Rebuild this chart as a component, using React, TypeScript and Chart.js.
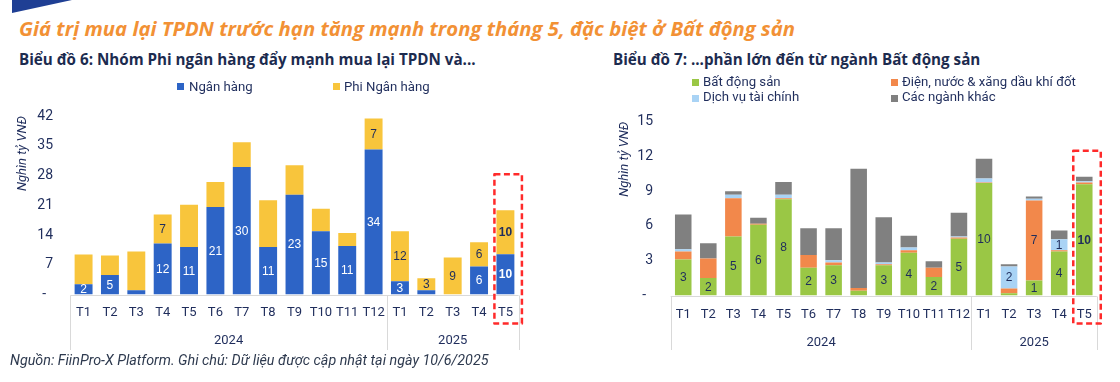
import React, { useEffect, useRef } from "react";
import { Chart, registerables } from "chart.js";

Chart.register(...registerables);

// ---------- Data ----------
const months = ["T1", "T2", "T3", "T4", "T5", "T6", "T7", "T8", "T9", "T10", "T11", "T12", "T1", "T2", "T3", "T4", "T5"];
const years = ["2024", "2025"];
const yearSpans = [12, 5];

// Chart 6 (nghìn tỷ VNĐ)
const bankValues = [2.4, 4.6, 1.0, 12.0, 11.2, 20.6, 30.0, 11.2, 23.5, 14.9, 11.4, 34.1, 3.1, 1.0, 0, 6.6, 9.5];
const nonBankValues = [7.0, 4.6, 9.1, 6.8, 9.9, 5.9, 5.8, 11.0, 6.9, 5.3, 3.1, 7.3, 11.8, 2.8, 8.7, 5.7, 10.3];
const bankLabels = ["2", "5", "", "12", "11", "21", "30", "11", "23", "15", "11", "34", "3", "", "", "6", "10"];
const nonBankLabels = ["", "", "", "7", "", "", "", "", "", "", "", "7", "12", "3", "9", "6", "10"];
const leftTicks = { min: 0, max: 42, step: 7 };
const leftHighlightTop = 28.3;

// Chart 7 (nghìn tỷ VNĐ)
const realEstate = [3.1, 1.5, 5.1, 6.1, 8.3, 2.4, 2.6, 0.4, 2.6, 3.7, 1.6, 4.9, 9.7, 0.2, 1.3, 3.8, 9.6];
const utilities = [0.7, 1.7, 3.3, 0.1, 0.1, 1.1, 0.25, 0.25, 0.1, 0.2, 0.8, 0.1, 0.05, 0.4, 6.9, 0.1, 0.15];
const financial = [0.2, 0, 0.3, 0, 0.3, 0, 0.2, 0, 0.15, 0.25, 0, 0.1, 0.35, 1.9, 0.15, 0.95, 0.1];
const others = [3.0, 1.3, 0.3, 0.5, 1.1, 2.3, 2.75, 10.3, 3.9, 1.0, 0.55, 2.05, 1.7, 0.2, 0.2, 0.75, 0.4];
const realEstateLabels = ["3", "2", "5", "6", "8", "2", "3", "", "3", "4", "2", "5", "10", "", "1", "4", "10"];
const utilitiesLabels = ["", "", "", "", "", "", "", "", "", "", "", "", "", "", "7", "", ""];
const financialLabels = ["", "", "", "", "", "", "", "", "", "", "", "", "", "2", "", "1", ""];
const othersLabels = ["", "", "", "", "", "", "", "", "", "", "", "", "", "", "", "", ""];
const rightTicks = { min: 0, max: 15, step: 3 };
const rightHighlightTop = 12.5;

// ---------- Styles ----------
const TEXT = "#1F2D5C";
const BLUE = "#2D64C6";
const YELLOW = "#F8C53C";
const GREEN = "#9AC745";
const ORANGE = "#F2884B";
const LIGHTBLUE = "#A9D3F5";
const GREY = "#808080";
const HIGHLIGHT = months.length - 1;

function labelPlugin(labelSets: string[][], colors: string[]) {
  return {
    id: "barLabels",
    afterDatasetsDraw(chart: any) {
      const ctx = chart.ctx;
      chart.data.datasets.forEach((_ds: any, di: number) => {
        const meta = chart.getDatasetMeta(di);
        meta.data.forEach((el: any, i: number) => {
          const t = labelSets[di][i];
          if (!t) return;
          const { x, y, base } = el.getProps(["x", "y", "base"], true);
          ctx.save();
          ctx.font = (i === HIGHLIGHT ? "bold " : "") + '12px "Liberation Sans", Arial, sans-serif';
          ctx.fillStyle = colors[di];
          ctx.textAlign = "center";
          ctx.textBaseline = "middle";
          ctx.fillText(t, x, (y + base) / 2 + 0.5);
          ctx.restore();
        });
      });
    },
  };
}

function decorPlugin(o: { yearOffset: number; sepDepth: number; hiTop: number; hiDepth: number }) {
  return {
    id: "axisDecor",
    afterDraw(chart: any) {
      const { ctx, chartArea } = chart;
      const xs = chart.scales.x;
      const ys = chart.scales.y;
      const half = (xs.getPixelForValue(1) - xs.getPixelForValue(0)) / 2;
      const bottom = chartArea.bottom;
      ctx.save();
      ctx.strokeStyle = "#D9D9D9";
      ctx.lineWidth = 1;
      ctx.beginPath();
      const by = Math.round(bottom) + 0.5;
      ctx.moveTo(chartArea.left, by);
      ctx.lineTo(chartArea.right, by);
      const bounds = [chartArea.left];
      let idx = 0;
      yearSpans.forEach((s) => {
        idx += s;
        bounds.push(xs.getPixelForValue(idx - 1) + half);
      });
      bounds.forEach((bx) => {
        const px = Math.round(bx) + 0.5;
        ctx.moveTo(px, by);
        ctx.lineTo(px, bottom + o.sepDepth);
      });
      ctx.stroke();

      ctx.fillStyle = TEXT;
      ctx.font = "13px Roboto, sans-serif";
      ctx.textAlign = "center";
      ctx.textBaseline = "middle";
      idx = 0;
      years.forEach((yr, k) => {
        const a = xs.getPixelForValue(idx);
        const b = xs.getPixelForValue(idx + yearSpans[k] - 1);
        ctx.fillText(yr, (a + b) / 2, bottom + o.yearOffset);
        idx += yearSpans[k];
      });

      const hx = xs.getPixelForValue(HIGHLIGHT);
      const top = ys.getPixelForValue(o.hiTop);
      ctx.strokeStyle = "#FF2A2A";
      ctx.lineWidth = 2.5;
      ctx.lineJoin = "round";
      ctx.setLineDash([6, 3.5]);
      ctx.strokeRect(hx - 11, top, 27.5, bottom + o.hiDepth - top);
      ctx.restore();
    },
  };
}

function baseOptions(p: {
  padTop: number; padRight: number; yWidth: number; xHeight: number; xPad: number; yPad: number;
  titlePad: number; min: number; max: number; step: number;
}) {
  return {
    responsive: false,
    animation: false,
    layout: { padding: { top: p.padTop, right: p.padRight, bottom: 0, left: 0 } },
    plugins: { legend: { display: false }, tooltip: { enabled: false } },
    scales: {
      x: {
        stacked: true,
        grid: { display: false, drawTicks: false },
        border: { display: false },
        ticks: { color: TEXT, font: { family: "Roboto", size: 13 }, padding: p.xPad, autoSkip: false, maxRotation: 0 },
        afterFit: (s: any) => { s.height = p.xHeight; s.paddingLeft = 0; s.paddingRight = 0; },
      },
      y: {
        stacked: true,
        min: p.min,
        max: p.max,
        grid: { display: false, drawTicks: false },
        border: { display: false },
        ticks: {
          stepSize: p.step,
          padding: p.yPad,
          color: TEXT,
          font: { family: "Roboto", size: 14 },
          callback: (v: any) => (v === 0 ? "-  " : String(v)),
        },
        title: {
          display: true,
          text: "Nghìn tỷ VNĐ",
          color: TEXT,
          align: "end",
          font: { family: "Roboto", size: 13, style: "italic" },
          padding: { top: p.titlePad, bottom: 0 },
        },
        afterFit: (s: any) => { s.width = p.yWidth; s.paddingTop = 0; s.paddingBottom = 0; },
      },
    },
  };
}

export default function App() {
  const leftRef = useRef<HTMLCanvasElement>(null);
  const rightRef = useRef<HTMLCanvasElement>(null);

  useEffect(() => {
    const barCommon = { barPercentage: 0.68, categoryPercentage: 1, borderWidth: 0 };
    const left = new Chart(leftRef.current!, {
      type: "bar",
      data: {
        labels: months,
        datasets: [
          { label: "Ngân hàng", data: bankValues, backgroundColor: BLUE, ...barCommon },
          { label: "Phi Ngân hàng", data: nonBankValues, backgroundColor: YELLOW, ...barCommon },
        ],
      },
      options: baseOptions({
        padTop: 16, padRight: 21.4, yWidth: 70.4, xHeight: 67.5, xPad: 10.7, yPad: 17.4,
        titlePad: 15.2, min: leftTicks.min, max: leftTicks.max, step: leftTicks.step,
      }) as any,
      plugins: [
        labelPlugin([bankLabels, nonBankLabels], ["#FFFFFF", TEXT]),
        decorPlugin({ yearOffset: 46.5, sepDepth: 55.5, hiTop: leftHighlightTop, hiDepth: 29 }),
      ],
    });
    const rc = { barPercentage: 0.66, categoryPercentage: 1, borderWidth: 0 };
    const right = new Chart(rightRef.current!, {
      type: "bar",
      data: {
        labels: months,
        datasets: [
          { label: "Bất động sản", data: realEstate, backgroundColor: GREEN, ...rc },
          { label: "Điện, nước & xăng dầu khí đốt", data: utilities, backgroundColor: ORANGE, ...rc },
          { label: "Dịch vụ tài chính", data: financial, backgroundColor: LIGHTBLUE, ...rc },
          { label: "Các ngành khác", data: others, backgroundColor: GREY, ...rc },
        ],
      },
      options: baseOptions({
        padTop: 21.7, padRight: 23.2, yWidth: 110.7, xHeight: 66.5, xPad: 11.2, yPad: 17.7,
        titlePad: 57.2, min: rightTicks.min, max: rightTicks.max, step: rightTicks.step,
      }) as any,
      plugins: [
        labelPlugin([realEstateLabels, utilitiesLabels, financialLabels, othersLabels], [TEXT, TEXT, TEXT, TEXT]),
        decorPlugin({ yearOffset: 47.5, sepDepth: 54.5, hiTop: rightHighlightTop, hiDepth: 28 }),
      ],
    });
    return () => {
      left.destroy();
      right.destroy();
    };
  }, []);

  const abs = (s: React.CSSProperties): React.CSSProperties => ({ position: "absolute", whiteSpace: "nowrap", lineHeight: 1, ...s });
  const legendText: React.CSSProperties = { fontFamily: "Roboto, sans-serif", fontSize: 13.2, color: TEXT };
  const sq = (left: number, top: number, color: string) => (
    <div style={abs({ left, top, width: 7, height: 7, background: color })} />
  );

  return (
    <div style={{ position: "absolute", left: 0, top: 0, width: 1120, height: 382, background: "#FFFFFF", overflow: "hidden" }}>
      <canvas ref={leftRef} width={540} height={262} style={{ position: "absolute", left: 0, top: 100, width: 540, height: 262 }} />
      <canvas ref={rightRef} width={560} height={262} style={{ position: "absolute", left: 560, top: 100, width: 560, height: 262 }} />

      <div style={abs({ left: 12, top: 0, width: 60, height: 13, background: "#1F3F94", clipPath: "polygon(0 0, 100% 0, 0 100%)" })} />
      <div style={abs({ left: 19, top: 18, fontFamily: "'Open Sans', sans-serif", fontWeight: 700, fontStyle: "italic", fontSize: 20.3, color: "#F29135" })}>
        Giá trị mua lại TPDN trước hạn tăng mạnh trong tháng 5, đặc biệt ở Bất động sản
      </div>
      <div style={abs({ left: 19, top: 52, fontFamily: "'Open Sans', sans-serif", fontWeight: 700, fontSize: 15.2, color: "#1C2B4F" })}>
        Biểu đồ 6: Nhóm Phi ngân hàng đẩy mạnh mua lại TPDN và...
      </div>
      <div style={abs({ left: 613, top: 52, fontFamily: "'Open Sans', sans-serif", fontWeight: 700, fontSize: 15.2, color: "#1C2B4F" })}>
        Biểu đồ 7: ...phần lớn đến từ ngành Bất động sản
      </div>

      {sq(177, 83, BLUE)}
      <div style={abs({ left: 189, top: 79.5, ...legendText })}>Ngân hàng</div>
      {sq(333, 83, YELLOW)}
      <div style={abs({ left: 344, top: 79.5, ...legendText })}>Phi Ngân hàng</div>

      {sq(692, 79, GREEN)}
      <div style={abs({ left: 703, top: 74.5, ...legendText })}>Bất động sản</div>
      {sq(891, 79, ORANGE)}
      <div style={abs({ left: 902, top: 74.5, ...legendText })}>Điện, nước &amp; xăng dầu khí đốt</div>
      {sq(692, 94.5, LIGHTBLUE)}
      <div style={abs({ left: 703, top: 90, ...legendText })}>Dịch vụ tài chính</div>
      {sq(891, 94.5, GREY)}
      <div style={abs({ left: 902, top: 90, ...legendText })}>Các ngành khác</div>

      <div style={abs({ left: 10, top: 353, fontFamily: "Roboto, sans-serif", fontStyle: "italic", fontSize: 14.3, color: "#2E3A4F" })}>
        Nguồn: FiinPro-X Platform. Ghi chú: Dữ liệu được cập nhật tại ngày 10/6/2025
      </div>
    </div>
  );
}
